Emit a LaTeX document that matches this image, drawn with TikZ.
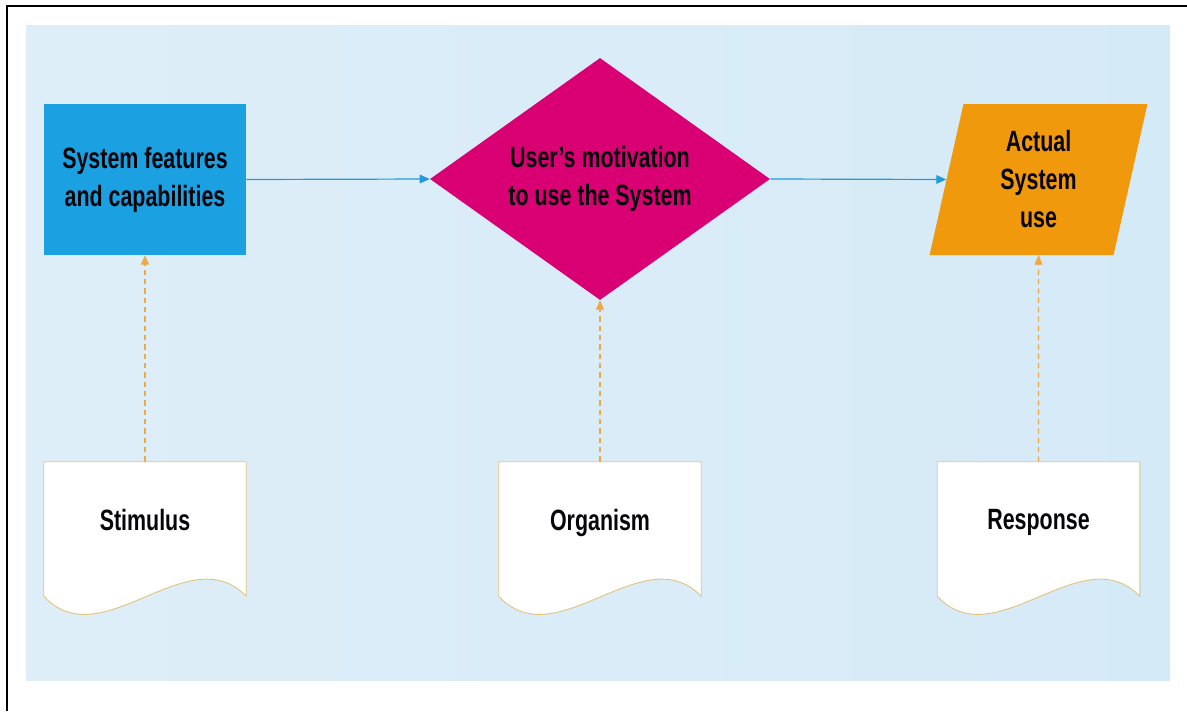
\documentclass[tikz,border=0pt]{standalone}
\usepackage{fontspec}
\setmainfont{Liberation Sans}[FakeStretch=0.73]
\usepackage{xcolor}
\usetikzlibrary{shapes.geometric,arrows.meta,calc}

\definecolor{boxblue}{RGB}{27,161,226}
\definecolor{boxmagenta}{RGB}{216,0,115}
\definecolor{boxamber}{RGB}{240,153,12}
\definecolor{lineblue}{RGB}{35,155,215}
\definecolor{lineamber}{RGB}{238,168,70}
\definecolor{docedge}{RGB}{226,196,128}
\definecolor{bgleft}{RGB}{222,238,248}
\definecolor{bgright}{RGB}{213,234,247}
\definecolor{textdark}{RGB}{5,5,10}

\pgfdeclarelayer{back}
\pgfdeclarelayer{mid}
\pgfsetlayers{back,mid,main}

\tikzset{
  shapebox/.style={inner sep=0pt, align=center, text=textdark,
    font=\fontsize{22}{28.5}\selectfont\bfseries},
  docbox/.style={shapebox, minimum width=151.5pt, minimum height=100.5pt, text depth=14pt},
  flow/.style={draw=lineblue, line width=0.9pt, -{Triangle[length=7.5pt,width=6.5pt]}},
  link/.style={draw=lineamber, line width=0.8pt, dash pattern=on 4pt off 3pt,
    -{Triangle[length=7pt,width=6pt]}},
}

\begin{document}
\begin{tikzpicture}[x=0.75pt,y=0.75pt,yscale=-1,xscale=1]
\useasboundingbox (0,0) rectangle (1187,711);

\begin{pgfonlayer}{back}
%Shape: Rectangle (background)
\fill[left color=bgleft, right color=bgright] (26,25) rectangle (1170,680);
%Straight Lines (frame)
\draw[line width=2pt] (7,711) -- (7,6) -- (1187,6);
\end{pgfonlayer}

%Shape: Rectangle
\node[shapebox, fill=boxblue, minimum width=151.5pt, minimum height=113.25pt] (feat) at (145,179.5) {System features\\and capabilities};
%Shape: Diamond
\node[shapebox, diamond, aspect=1.4, fill=boxmagenta, minimum width=255pt, minimum height=181.5pt] (motiv) at (600,179) {User’s motivation\\to use the System};
%Shape: Parallelogram
\node[shapebox, trapezium, trapezium left angle=80, trapezium right angle=100, trapezium stretches=true,
  fill=boxamber, minimum width=164.25pt, minimum height=113.25pt] (use) at (1038.5,179.5) {Actual\\System\\use};

%Shape: Documents
\node[docbox] (stim) at (145,529) {Stimulus};
\node[docbox] (org) at (600,529) {Organism};
\node[docbox] (resp) at (1038.5,529) {Response};
\begin{pgfonlayer}{mid}
\foreach \d in {stim,org,resp}{
  \filldraw[fill=white, draw=docedge, line width=0.7pt] (\d.south west) -- (\d.north west) -- (\d.north east) -- (\d.south east)
    .. controls ($(\d.south east)+(-58,-60)$) and ($(\d.south west)+(58,62)$) .. (\d.south west) -- cycle;
}
\end{pgfonlayer}

%Straight Lines
\draw[flow] (feat.east) -- (motiv.west);
\draw[flow] (motiv.east) -- (use.west);
%Dashed Lines
\draw[link] (stim.north) -- (feat.south);
\draw[link] (org.north) -- (motiv.south);
\draw[link] (resp.north) -- (use.south);
\end{tikzpicture}
\end{document}
